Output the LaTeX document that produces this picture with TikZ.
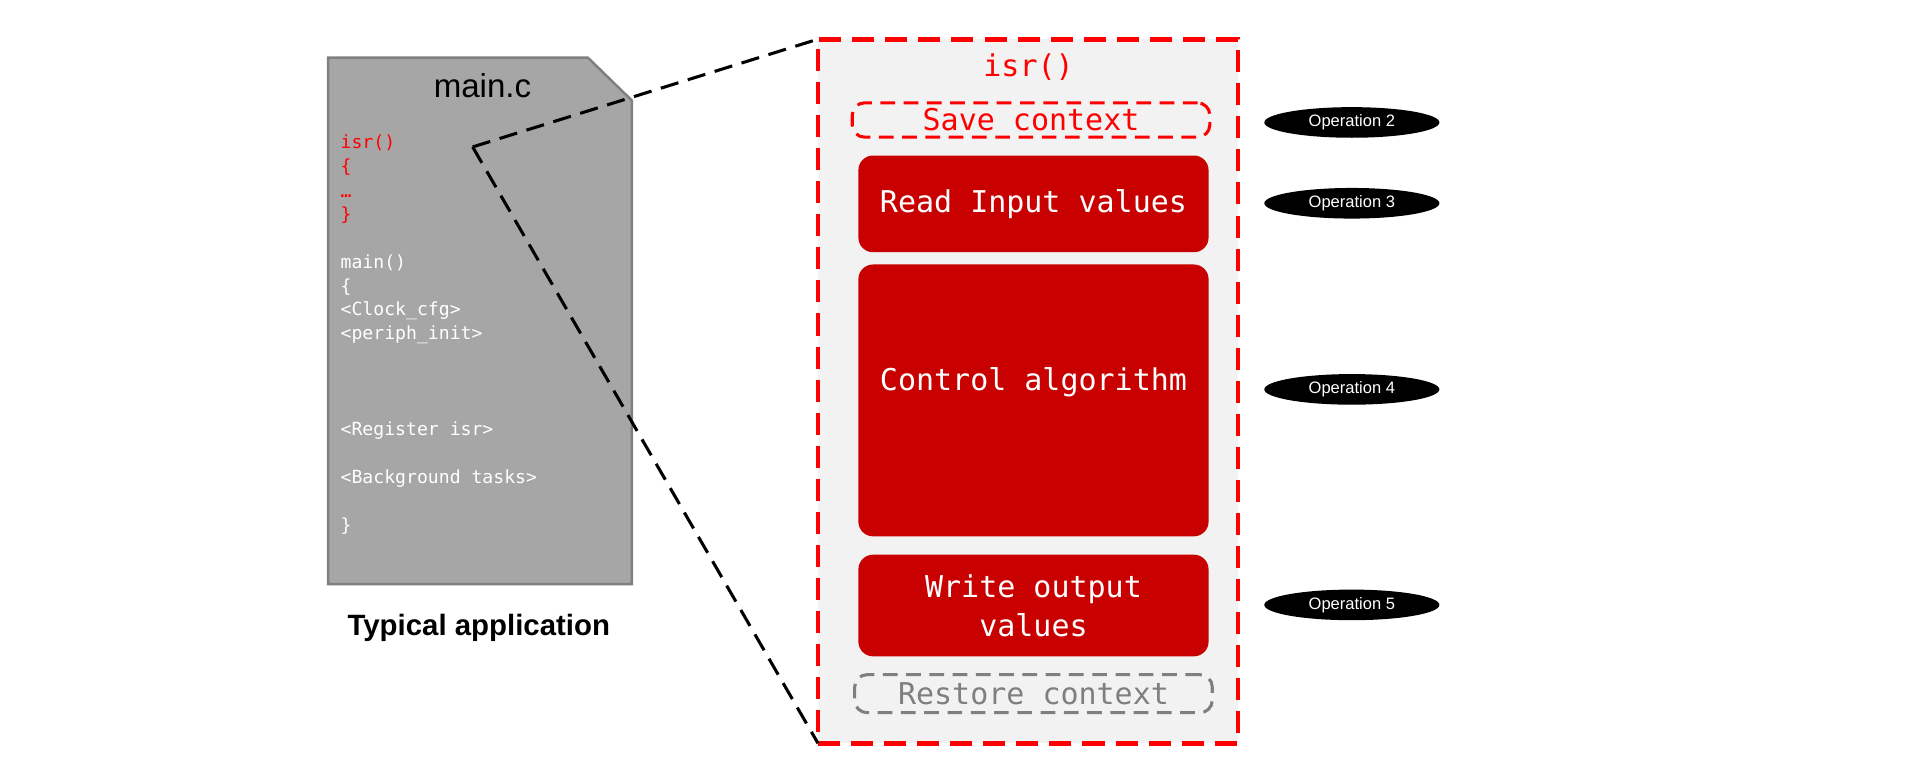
\documentclass[tikz,border=0pt]{standalone}
\usepackage{fontspec}
\setmainfont{Liberation Sans}
\newfontfamily\codefont{DejaVu Sans Mono}
\usetikzlibrary{shapes.geometric}
\definecolor{docgray}{HTML}{A6A6A6}
\definecolor{docline}{HTML}{7F7F7F}
\definecolor{boxbg}{HTML}{F2F2F2}
\definecolor{blockred}{HTML}{C80000}
\definecolor{ctxgray}{HTML}{7F7F7F}
\begin{document}
\begin{tikzpicture}[x=1pt,y=-1pt,
  code/.style={font=\codefont\fontsize{14.8}{17}\selectfont, text=white, anchor=west, inner sep=0pt, text height=11pt, text depth=3pt},
  redcode/.style={code, text=red},
  block/.style={fill=blockred, rounded corners=12pt, minimum width=286pt, inner sep=0pt, text=white, font=\codefont\fontsize{24.5}{32}\selectfont, align=center},
  ctxbox/.style={draw, line width=2.5pt, dash pattern=on 12pt off 7pt, rounded corners=10pt, fill=boxbg, minimum width=292pt, inner sep=0pt, font=\codefont\fontsize{24.5}{32}\selectfont},
  opell/.style={ellipse, fill=black, text=white, minimum width=143pt, minimum height=25pt, inner sep=0pt, font=\fontsize{13.5}{15}\selectfont},
  conn/.style={draw=black, line width=2.5pt, dash pattern=on 15pt off 8pt},
]
\path[use as bounding box] (0,0) rectangle (1568,636);

% document shape
\draw[fill=docgray, draw=docline, line width=2pt] (268,47) -- (480,47) -- (516,82) -- (516,477) -- (268,477) -- cycle;
\node[font=\fontsize{27}{32}\selectfont] (mainc) at (394,70) {main.c};

\node[redcode] (l1) at (278,117) {isr()};
\node[redcode] (l2) at (278,137) {\{};
\node[redcode] (l3) at (278,157) {…};
\node[redcode] (l4) at (278,176) {\}};
\node[code] (l5) at (278,215) {main()};
\node[code] (l6) at (278,235) {\{};
\node[code] (l7) at (278,254) {<Clock\_cfg>};
\node[code] (l8) at (278,273) {<periph\_init>};
\node[code] (l9) at (278,352) {<Register isr>};
\node[code] (l10) at (278,391) {<Background tasks>};
\node[code] (l11) at (278,430) {\}};

\node[font=\bfseries\fontsize{24}{28}\selectfont] (typ) at (391,513) {Typical application};

% isr box
\node[draw=red, fill=boxbg, line width=4pt, dash pattern=on 18pt off 9pt, minimum width=343pt, minimum height=575pt, inner sep=0pt, outer sep=0pt] (isrbox) at (839.5,319.5) {};
\coordinate (isrref) at (386,120);
\draw[conn] (isrref) -- (isrbox.north west);
\draw[conn] (isrref) -- (isrbox.south west);

\node[text=red, font=\codefont\fontsize{24.5}{32}\selectfont] (isrt) at (840,55) {isr()};

\node[ctxbox, draw=red, text=red, minimum height=28pt] (save) at (842,98) {Save context};
\node[block, minimum height=79pt] (read) at (844,166.5) {Read Input values};
\node[block, minimum height=222pt] (ctrl) at (844,327) {};
\node[text=white, font=\codefont\fontsize{24.5}{32}\selectfont] (ctrlt) at (844,312) {Control algorithm};
\node[block, minimum height=83pt] (write) at (844,494.5) {Write output\\values};
\node[ctxbox, draw=ctxgray, text=ctxgray, minimum height=31pt] (restore) at (844,566.5) {Restore context};

\node[opell] (op2) at (1104,100) {Operation 2};
\node[opell] (op3) at (1104,166) {Operation 3};
\node[opell] (op4) at (1104,318) {Operation 4};
\node[opell] (op5) at (1104,494) {Operation 5};
\end{tikzpicture}
\end{document}
